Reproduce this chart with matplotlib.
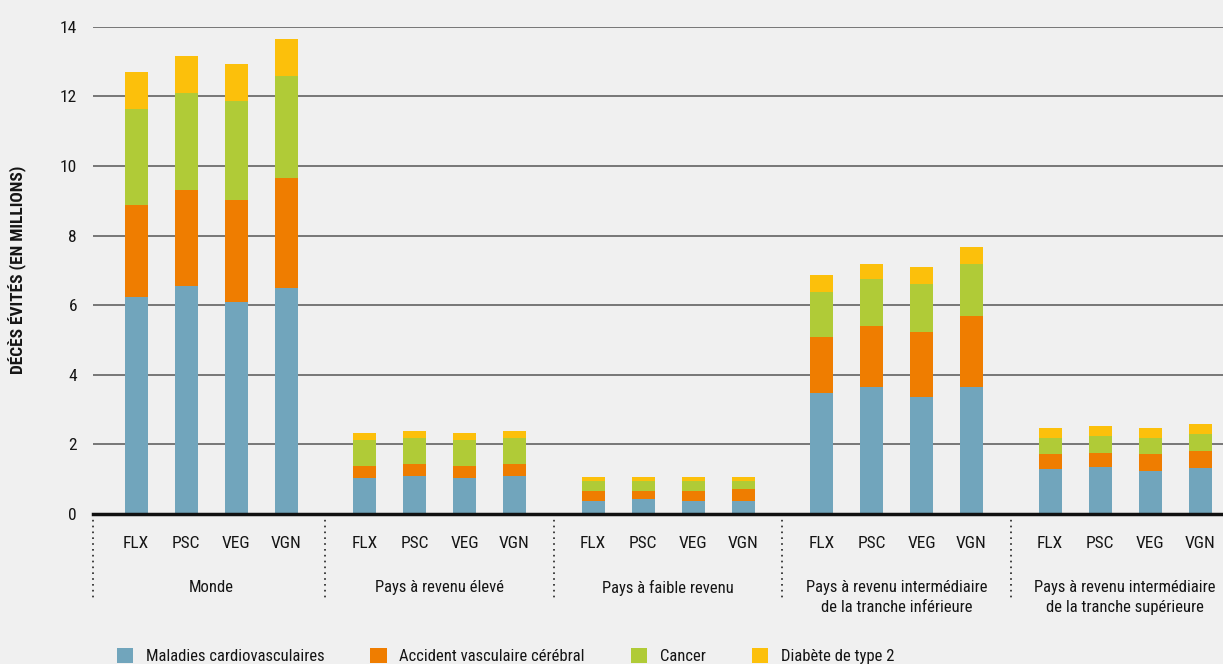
import matplotlib
matplotlib.use("Agg")
import matplotlib.pyplot as plt
from matplotlib import font_manager
from matplotlib.patches import Patch
import numpy as np

# données (millions de décès évités)
groupes = ["Monde", "Pays à revenu élevé", "Pays à faible revenu",
           "Pays à revenu intermédiaire\nde la tranche inférieure",
           "Pays à revenu intermédiaire\nde la tranche supérieure"]
regimes = ["FLX", "PSC", "VEG", "VGN"]
causes = ["Maladies cardiovasculaires", "Accident vasculaire cérébral",
          "Cancer", "Diabète de type 2"]

cardio = [6.24, 6.56, 6.10, 6.50,
          1.03, 1.09, 1.03, 1.09,
          0.37, 0.43, 0.37, 0.37,
          3.48, 3.65, 3.36, 3.65,
          1.29, 1.35, 1.24, 1.32]
avc = [2.64, 2.75, 2.92, 3.16,
       0.35, 0.35, 0.35, 0.35,
       0.29, 0.23, 0.29, 0.35,
       1.61, 1.75, 1.87, 2.04,
       0.43, 0.40, 0.48, 0.49]
cancer = [2.76, 2.79, 2.85, 2.93,
          0.75, 0.74, 0.75, 0.74,
          0.29, 0.29, 0.29, 0.23,
          1.29, 1.35, 1.38, 1.49,
          0.46, 0.49, 0.46, 0.49]
diabete = [1.06, 1.06, 1.06, 1.06,
           0.20, 0.21, 0.20, 0.21,
           0.11, 0.11, 0.11, 0.11,
           0.49, 0.43, 0.49, 0.49,
           0.29, 0.29, 0.29, 0.29]

couleurs = ["#71A5BC", "#EF7D00", "#B0CB37", "#FCC00B"]

# police étroite si disponible
noms = {f.name for f in font_manager.fontManager.ttflist}
police = "DejaVu Sans"
for cand in ["Liberation Sans Narrow", "DejaVu Sans Condensed", "Roboto Condensed",
             "Open Sans Condensed"]:
    if cand in noms:
        police = cand
        break
plt.rcParams["font.family"] = [police, "DejaVu Sans"]
plt.rcParams["font.stretch"] = "condensed"
plt.rcParams["text.color"] = "#151515"
plt.rcParams["xtick.color"] = "#151515"
plt.rcParams["ytick.color"] = "#151515"

fond = "#F0F0F0"
fig = plt.figure(figsize=(12.23, 6.64), dpi=100, facecolor=fond)
ax = fig.add_axes([93 / 1223, 1 - 514 / 664, 1 - 93 / 1223, (514 - 26.7) / 664])
ax.set_facecolor(fond)

pas_groupe = 4.57
x = np.array([g * pas_groupe + j for g in range(len(groupes)) for j in range(len(regimes))])
largeur = 0.46

bas = np.zeros(len(x))
for vals, c in zip([cardio, avc, cancer, diabete], couleurs):
    ax.bar(x, vals, largeur, bottom=bas, color=c, zorder=3, linewidth=0)
    bas += np.array(vals)

ax.set_ylim(0, 14)
ax.set_xlim(-0.86, 21.74)
ax.set_yticks(range(0, 15, 2))
ax.yaxis.grid(True, color="#555555", linewidth=1.1, zorder=0)
ax.tick_params(axis="y", length=0, pad=11.5, labelsize=12.5)
ax.tick_params(axis="x", length=0, pad=16, labelsize=12.5)
ax.set_xticks(x)
ax.set_xticklabels(regimes * len(groupes))
for s in ["top", "right", "left"]:
    ax.spines[s].set_visible(False)
ax.spines["bottom"].set_linewidth(2.5)
ax.spines["bottom"].set_color("#111111")
ax.spines["bottom"].set_zorder(4)

fig.text(18 / 1223, 1 - 270 / 664, "DÉCÈS ÉVITÉS (EN MILLIONS)", rotation=90,
         ha="center", va="center", fontsize=12.5, fontweight="bold")

trans = ax.get_xaxis_transform()
seps = [-0.86] + [g * pas_groupe - 0.785 for g in range(1, len(groupes))]
for s in seps:
    ax.plot([s, s], [0, -0.177], transform=trans, clip_on=False,
            color="#222222", linestyle=(0, (1, 2.5)), linewidth=1.2)

for g, nom in enumerate(groupes):
    centre = g * pas_groupe + 1.5
    ax.text(centre, -0.135, nom, transform=trans, ha="center", va="top",
            fontsize=12, linespacing=1.4)

poignees = [Patch(facecolor=c, edgecolor="none") for c in couleurs]
fig.legend(poignees, causes, loc="center left", bbox_to_anchor=(0.0885, 0.012),
           ncol=4, frameon=False, fontsize=12, borderpad=0, handlelength=1.0,
           handleheight=1.0, handletextpad=0.75, columnspacing=2.75)

fig.savefig("out.png", dpi=100, facecolor=fond)
